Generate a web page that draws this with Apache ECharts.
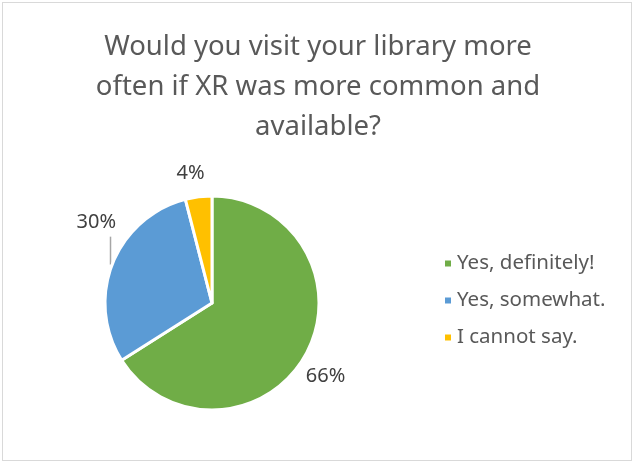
<!DOCTYPE html>
<html>
<head>
<meta charset="utf-8">
<script src="https://cdn.jsdelivr.net/npm/echarts@6/dist/echarts.min.js"></script>
<style>
  html, body { margin: 0; padding: 0; background: #fff; }
  #frame { position: absolute; left: 2px; top: 2px; width: 628px; height: 457px; border: 1px solid #d9d9d9; }
  #chart { position: absolute; left: 0; top: 0; width: 633px; height: 464px; }
</style>
</head>
<body>
<div id="frame"></div>
<div id="chart"></div>
<script>
const categories = ["Yes, definitely!", "Yes, somewhat.", "I cannot say."];
const shares = [66, 30, 4];
const colors = ["#70AD47", "#5B9BD5", "#FFC000"];
// nudges so the labels sit where Excel placed them
const labelNudge = [[-12, 18], [16, -38], [12, -16]];

const chart = echarts.init(document.getElementById("chart"));

const option = {
  animation: false,
  title: {
    text: "Would you visit your library more\noften if XR was more common and\navailable?",
    left: 313,
    textAlign: "center",
    top: 22,
    textStyle: {
      fontFamily: "Noto Sans",
      fontSize: 27.5,
      fontWeight: "normal",
      color: "#595959",
      lineHeight: 40,
    },
  },
  legend: {
    orient: "vertical",
    left: 438,
    top: 248,
    icon: "rect",
    itemWidth: 8,
    itemHeight: 8,
    itemGap: 16,
    textStyle: { fontFamily: "Noto Sans", fontSize: 20.5, lineHeight: 20, color: "#595959" },
    data: categories,
  },
  series: [
    {
      type: "pie",
      center: [212, 303],
      radius: 107,
      startAngle: 90,
      clockwise: true,
      itemStyle: { borderColor: "#fff", borderWidth: 3 },
      label: {
        position: "outside",
        formatter: "{c}%",
        fontFamily: "Noto Sans",
        fontSize: 20,
        color: "#404040",
      },
      labelLine: { show: false, length: 8, length2: 0 },
      labelLayout: (params) => {
        const [dx, dy] = labelNudge[params.dataIndex];
        const out = { dx, dy };
        const pts = params.labelLinePoints;
        if (params.dataIndex === 1 && pts) {
          // vertical leader from the slice edge up to the moved label
          const edge = pts[0];
          const top = params.labelRect.y + params.labelRect.height + dy + 4;
          out.labelLinePoints = [[edge[0] - 2, edge[1] + 1], [edge[0] - 2, top]];
        }
        return out;
      },
      data: categories.map((name, i) => ({
        name,
        value: shares[i],
        itemStyle: { color: colors[i] },
        labelLine: i === 1 ? { show: true, lineStyle: { color: "#a6a6a6", width: 1.5 } } : undefined,
      })),
    },
  ],
};

chart.setOption(option);
</script>
</body>
</html>
